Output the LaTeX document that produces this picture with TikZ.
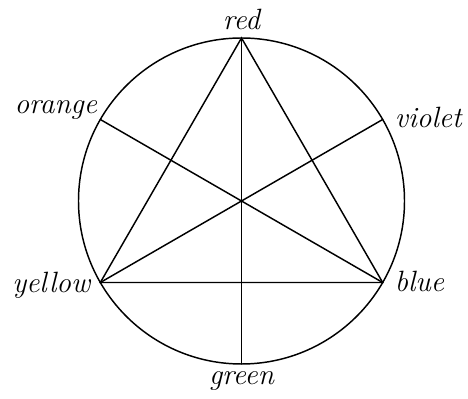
\documentclass[tikz,border=0pt]{standalone}
\usepackage{tikz}
\usetikzlibrary{positioning, calc}

\begin{document}
\begin{tikzpicture}[
    x=0.75pt, y=0.75pt,
    chord/.style={line width=1.1pt, line cap=round},
    hue/.style={font=\fontsize{22}{26}\selectfont\itshape, inner sep=0pt},
]
\useasboundingbox (0,0) rectangle (468,399);

% points on the wheel
\coordinate (centre) at (241.5,198);
\coordinate (red)    at ($(centre)+(90:163)$);
\coordinate (violet) at ($(centre)+(30:163)$);
\coordinate (blue)   at ($(centre)+(-30:163)$);
\coordinate (green)  at ($(centre)+(-90:163)$);
\coordinate (yellow) at ($(centre)+(210:163)$);
\coordinate (orange) at ($(centre)+(150:163)$);

\draw[chord] (centre) circle[radius=163];

% triangle and its medians
\draw[chord] (red) -- (yellow) -- (blue) -- cycle;
\draw[chord] (red) -- (green);
\draw[chord] (orange) -- (blue);
\draw[chord] (violet) -- (yellow);

% labels
\node[hue, anchor=base]      (redlabel)    at ($(red)+(0,8)$)      {red};
\node[hue, anchor=base east] (orangelabel) at ($(orange)+(-3,6)$)  {orange};
\node[hue, anchor=base west] (violetlabel) at ($(violet)+(12,-8)$) {violet};
\node[hue, anchor=base east] (yellowlabel) at ($(yellow)+(-10,-10)$) {yellow};
\node[hue, anchor=base west] (bluelabel)   at ($(blue)+(12,-9)$)   {blue};
\node[hue, anchor=base]      (greenlabel)  at ($(green)+(0,-21)$)  {green};

\end{tikzpicture}
\end{document}
